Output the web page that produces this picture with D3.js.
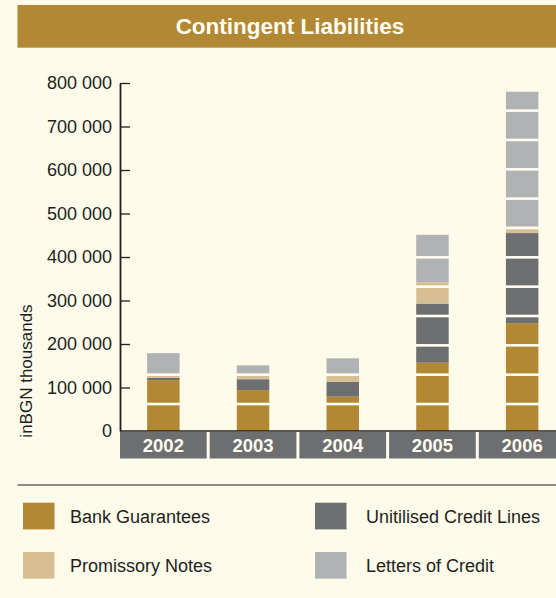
<!DOCTYPE html>
<html>
<head>
<meta charset="utf-8">
<script src="https://cdn.jsdelivr.net/npm/d3@7"></script>
<style>
  html, body { margin: 0; padding: 0; background: #fefbeb; }
  svg { display: block; }
  text { font-family: "Liberation Sans", Arial, sans-serif; }
</style>
</head>
<body>
<svg id="chart" width="556" height="598"></svg>
<script>
// Contingent liabilities, in thousands of BGN
const years = ["2002", "2003", "2004", "2005", "2006"];
const seriesNames = ["Bank Guarantees", "Unitilised Credit Lines", "Promissory Notes", "Letters of Credit"];
const bankGuarantees      = [117000,  94000,  79000, 157000, 248000];
const unutilisedCredit    = [  5000,  25000,  34000, 136000, 207000];
const promissoryNotes     = [  6000,  12000,  17000,  49000,  16000];
const lettersOfCredit     = [ 51000,  20000,  37000, 109000, 309000];
const yTicks = [0, 100000, 200000, 300000, 400000, 500000, 600000, 700000, 800000];

const colors = {
  "Bank Guarantees": "#b38834",
  "Unitilised Credit Lines": "#6d6e70",
  "Promissory Notes": "#d8bf93",
  "Letters of Credit": "#b1b2b4"
};
const ink = "#231f20";
const bg = "#fefbeb";

const svg = d3.select("#chart");
svg.append("rect").attr("width", 556).attr("height", 598).attr("fill", bg);

// Title banner
svg.append("rect").attr("x", 17.5).attr("y", 5).attr("width", 540).attr("height", 42.7)
  .attr("fill", "#b38834");
svg.append("text").attr("x", 290).attr("y", 33.5).attr("text-anchor", "middle")
  .attr("fill", "#fffdf2").attr("font-size", 22.5).attr("font-weight", "bold")
  .text("Contingent Liabilities");

// Scales
const y = d3.scaleLinear().domain([0, 800000]).range([431, 83]);
const xCell = d3.scaleBand().domain(years).range([118.5, 567]).padding(0);
const x = d3.scaleBand().domain(years).range([118.5, 567])
  .paddingInner(0.638).paddingOuter(0.319);

// Stacked data
const rows = years.map((yr, i) => ({
  year: yr,
  "Bank Guarantees": bankGuarantees[i],
  "Unitilised Credit Lines": unutilisedCredit[i],
  "Promissory Notes": promissoryNotes[i],
  "Letters of Credit": lettersOfCredit[i]
}));
const stacked = d3.stack().keys(seriesNames)(rows);

const barG = svg.append("g");
barG.selectAll("g").data(stacked).join("g")
  .attr("fill", d => colors[d.key])
  .selectAll("rect").data(d => d).join("rect")
  .attr("x", d => x(d.data.year))
  .attr("width", x.bandwidth())
  .attr("y", d => y(d[1]))
  .attr("height", d => y(d[0]) - y(d[1]));

// Decorative light separators cut across each bar
const stripeStart = 62000, stripeStep = 67450;
const totals = years.map((yr, i) => bankGuarantees[i] + unutilisedCredit[i] + promissoryNotes[i] + lettersOfCredit[i]);
years.forEach((yr, i) => {
  const marks = d3.range(stripeStart, totals[i], stripeStep);
  barG.selectAll(null).data(marks).join("rect")
    .attr("x", x(yr) - 0.5).attr("width", x.bandwidth() + 1)
    .attr("y", v => y(v) - 1.3).attr("height", 2.6)
    .attr("fill", "#fffdf3");
});

// Category band below the plot
const band = svg.append("g");
band.selectAll("rect").data(years).join("rect")
  .attr("x", d => Math.max(120, xCell(d) + 1.5))
  .attr("width", d => xCell(d) + xCell.bandwidth() - 1.5 - Math.max(120, xCell(d) + 1.5))
  .attr("y", 432).attr("height", 26.5)
  .attr("fill", "#6d6e70");
band.selectAll("text").data(years).join("text")
  .attr("x", d => x(d) + x.bandwidth() / 2)
  .attr("y", 451.5)
  .attr("text-anchor", "middle")
  .attr("fill", "#fffdf2").attr("font-size", 18.5).attr("font-weight", "bold")
  .text(d => d);

// Baseline
svg.append("line").attr("x1", 120).attr("x2", 556).attr("y1", 431).attr("y2", 431)
  .attr("stroke", ink).attr("stroke-width", 1.4);

// Y axis with ticks pointing into the plot
const fmt = d3.formatLocale({ decimal: ".", thousands: " ", grouping: [3], currency: ["", ""] }).format(",");
const yAxis = d3.axisLeft(y).tickValues(yTicks).tickFormat(fmt)
  .tickSizeInner(-10).tickSizeOuter(0).tickPadding(8);
const axG = svg.append("g").attr("transform", "translate(120,0)").call(yAxis);
axG.select(".domain").attr("stroke", ink).attr("stroke-width", 1.8);
axG.selectAll(".tick line").attr("stroke", ink).attr("stroke-width", 1.3);
axG.selectAll(".tick text").attr("fill", ink).attr("font-size", 18)
  .attr("font-family", "'Liberation Sans', Arial, sans-serif");
axG.selectAll(".tick").filter(d => d === 0).select("line").remove();

svg.append("text")
  .attr("transform", "translate(32,371) rotate(-90)")
  .attr("text-anchor", "middle").attr("fill", ink).attr("font-size", 17)
  .text("inBGN thousands");

// Legend
svg.append("line").attr("x1", 17.5).attr("x2", 556).attr("y1", 485).attr("y2", 485)
  .attr("stroke", ink).attr("stroke-width", 1.2);
const legendOrder = ["Bank Guarantees", "Unitilised Credit Lines", "Promissory Notes", "Letters of Credit"];
const legend = svg.append("g").selectAll("g").data(legendOrder).join("g")
  .attr("transform", (d, i) => `translate(${i % 2 === 0 ? 23 : 315},${i < 2 ? 502.7 : 552})`);
legend.append("rect").attr("width", 31.5).attr("height", 26.7).attr("fill", d => colors[d]);
legend.append("text").attr("x", (d, i) => i % 2 === 0 ? 47 : 51).attr("y", 20.3)
  .attr("fill", ink).attr("font-size", 18)
  .text(d => d);
</script>
</body>
</html>
